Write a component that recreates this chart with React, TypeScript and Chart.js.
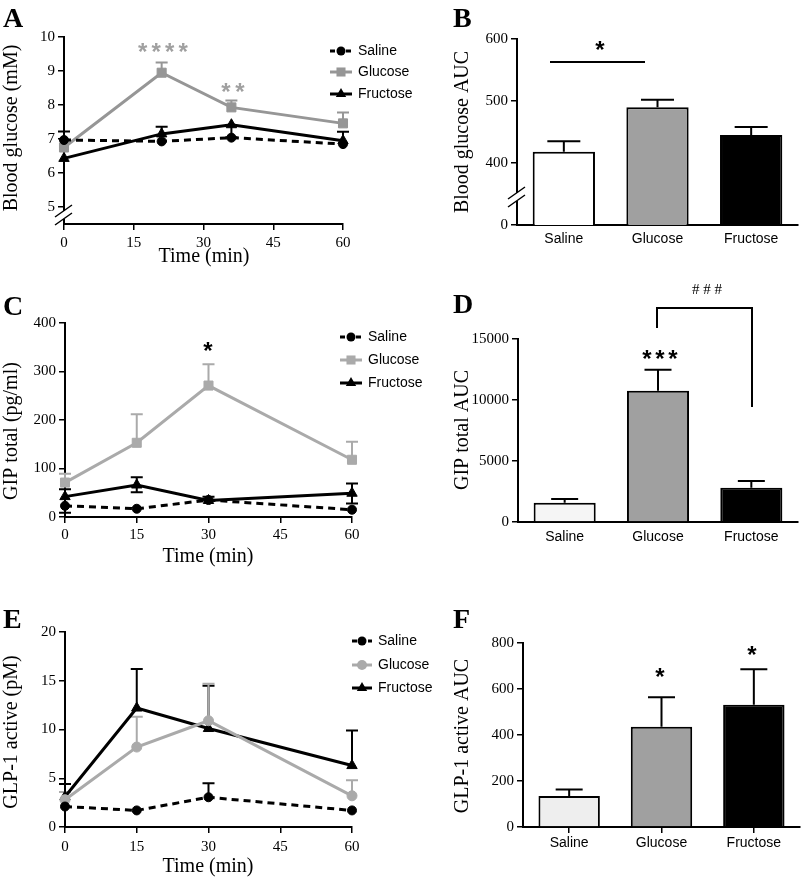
import React, { useEffect, useRef } from 'react';
import { Chart, registerables } from 'chart.js';
Chart.register(...registerables);

const SERIF = "'Liberation Serif', 'Times New Roman', Times, serif";
const SANS = "'Liberation Sans', Arial, Helvetica, sans-serif";

// ---------------- data ----------------
const groups = ['Saline', 'Glucose', 'Fructose'];
const timeTicks = [0, 15, 30, 45, 60];

// Panel A: blood glucose (mM)
const timeA = [0, 21, 36, 60];
const salineA = [6.97, 6.93, 7.04, 6.85];
const salineAUp = [0.25, 0, 0, 0];
const salineADown = [0, 0, 0, 0];
const glucoseA = [6.75, 8.95, 7.93, 7.46];
const glucoseAUp = [0, 0.3, 0.2, 0.32];
const glucoseADown = [0, 0, 0, 0];
const fructoseA = [6.43, 7.15, 7.42, 6.95];
const fructoseAUp = [0, 0.21, 0, 0.26];
const fructoseADown = [0, 0, 0.37, 0];
const yTicksA = [5, 6, 7, 8, 9, 10];

// Panel B: blood glucose AUC
const aucGlucose = [418, 490, 445];
const aucGlucoseErr = [17, 12, 13];
const yTicksB = [300, 400, 500, 600];
const yLabelsB = ['0', '400', '500', '600'];

// Panel C: GIP total (pg/ml)
const timeC = [0, 15, 30, 60];
const salineC = [23, 17, 35, 15];
const salineCUp = [0, 0, 0, 0];
const salineCDown = [14, 0, 0, 0];
const glucoseC = [71, 153, 271, 118];
const glucoseCUp = [18, 59, 44, 37];
const glucoseCDown = [0, 0, 0, 0];
const fructoseC = [42, 66, 34, 49];
const fructoseCUp = [15, 16, 8, 20];
const fructoseCDown = [0, 15, 0, 21];
const yTicksC = [0, 100, 200, 300, 400];

// Panel D: GIP total AUC
const aucGip = [1580, 10750, 2800];
const aucGipErr = [300, 1720, 570];
const yTicksD = [0, 5000, 10000, 15000];

// Panel E: GLP-1 active (pM)
const timeE = [0, 15, 30, 60];
const salineE = [2.1, 1.7, 3.05, 1.7];
const salineEUp = [0, 0, 1.45, 0];
const glucoseE = [2.8, 8.2, 10.9, 3.2];
const glucoseEUp = [0.8, 3.1, 3.8, 1.6];
const fructoseE = [3.1, 12.2, 10.1, 6.3];
const fructoseEUp = [1.3, 4.0, 4.4, 3.6];
const noErr = [0, 0, 0, 0];
const yTicksE = [0, 5, 10, 15, 20];

// Panel F: GLP-1 active AUC
const aucGlp = [135, 436, 532];
const aucGlpErr = [28, 128, 154];
const yTicksF = [0, 200, 400, 600, 800];

// ---------------- helpers ----------------
type Ctx = CanvasRenderingContext2D;

function txt(ctx: Ctx, s: string, x: number, y: number, font: string, color = '#000', align: CanvasTextAlign = 'center', rot = 0) {
  ctx.save();
  ctx.font = font;
  ctx.fillStyle = color;
  ctx.textAlign = align;
  ctx.textBaseline = 'middle';
  ctx.translate(x, y);
  if (rot) ctx.rotate(rot);
  ctx.fillText(s, 0, 0);
  ctx.restore();
}

function glyph(ctx: Ctx, s: string, cx: number, cy: number, font: string, color = '#000') {
  ctx.save();
  ctx.font = font;
  ctx.fillStyle = color;
  ctx.textAlign = 'center';
  ctx.textBaseline = 'alphabetic';
  const m = ctx.measureText(s);
  const asc = m.actualBoundingBoxAscent || 0;
  const desc = m.actualBoundingBoxDescent || 0;
  ctx.fillText(s, cx, cy + (asc - desc) / 2);
  ctx.restore();
}

const STAR = `bold 24px ${SANS}`;
function stars(ctx: Ctx, n: number, cx: number, cy: number, color = '#000', gap = 13.5) {
  for (let i = 0; i < n; i++) {
    glyph(ctx, '*', cx + (i - (n - 1) / 2) * gap, cy, STAR, color);
  }
}

function letter(ctx: Ctx, s: string, x: number, y: number) {
  ctx.save();
  ctx.font = `bold 28px ${SERIF}`;
  ctx.fillStyle = '#000';
  ctx.textAlign = 'left';
  ctx.textBaseline = 'alphabetic';
  ctx.fillText(s, x, y);
  ctx.restore();
}

function marker(ctx: Ctx, shape: string, x: number, y: number, r: number, color: string) {
  ctx.save();
  ctx.fillStyle = color;
  ctx.beginPath();
  if (shape === 'circle') {
    ctx.arc(x, y, r, 0, Math.PI * 2);
  } else if (shape === 'rect') {
    const s = r * Math.SQRT1_2;
    ctx.rect(x - s, y - s, 2 * s, 2 * s);
  } else {
    ctx.moveTo(x, y - r);
    ctx.lineTo(x + r * Math.sin((2 * Math.PI) / 3), y - r * Math.cos((2 * Math.PI) / 3));
    ctx.lineTo(x + r * Math.sin((4 * Math.PI) / 3), y - r * Math.cos((4 * Math.PI) / 3));
    ctx.closePath();
  }
  ctx.fill();
  ctx.restore();
}

function breakMarks(ctx: Ctx, x: number, yc: number) {
  ctx.save();
  ctx.fillStyle = '#fff';
  ctx.fillRect(x - 3, yc - 4, 6, 8);
  ctx.strokeStyle = '#000';
  ctx.lineWidth = 1.5;
  ctx.beginPath();
  ctx.moveTo(x - 9, yc + 2);
  ctx.lineTo(x + 8, yc - 10);
  ctx.moveTo(x - 9, yc + 10);
  ctx.lineTo(x + 8, yc - 2);
  ctx.stroke();
  ctx.restore();
}

interface Series {
  label: string;
  data: number[];
  up: number[];
  down: number[];
  color: string;
  dash: boolean;
  point: string;
  radius: number;
}

function legend(ctx: Ctx, series: Series[], x1: number, x2: number, ys: number[]) {
  series.forEach((s, i) => {
    const y = ys[i];
    ctx.save();
    ctx.strokeStyle = s.color;
    ctx.lineWidth = 3;
    ctx.setLineDash(s.dash ? [5, 3] : []);
    ctx.beginPath();
    ctx.moveTo(x1, y);
    ctx.lineTo(x2, y);
    ctx.stroke();
    ctx.restore();
    marker(ctx, s.point, (x1 + x2) / 2, y, s.radius, s.color);
    txt(ctx, s.label, x2 + 6, y, `14px ${SANS}`, '#000', 'left');
  });
}

function drawErr(chart: any, xs: number[], ys: number[], up: number[], down: number[], color: string, capW: number) {
  const ctx: Ctx = chart.ctx;
  const xS = chart.scales.x;
  const yS = chart.scales.y;
  ctx.save();
  ctx.strokeStyle = color;
  ctx.lineWidth = 2;
  for (let i = 0; i < ys.length; i++) {
    const px = xS.getPixelForValue(xs[i]);
    const py = yS.getPixelForValue(ys[i]);
    const ends: number[] = [];
    if (up[i] > 0) ends.push(yS.getPixelForValue(ys[i] + up[i]));
    if (down[i] > 0) ends.push(yS.getPixelForValue(ys[i] - down[i]));
    ends.forEach((pe) => {
      ctx.beginPath();
      ctx.moveTo(px, py);
      ctx.lineTo(px, pe);
      ctx.moveTo(px - capW / 2, pe);
      ctx.lineTo(px + capW / 2, pe);
      ctx.stroke();
    });
  }
  ctx.restore();
}

const gridStyle = (ticks = true) => ({
  drawOnChartArea: false,
  drawTicks: ticks,
  tickLength: 6,
  color: '#000',
  lineWidth: 1.5,
});
const borderStyle = { display: true, color: '#000', width: 2 };

interface Box { ox: number; oy: number; w: number; h: number; l: number; t: number; r: number; b: number; }

function overlayPlugin(box: Box, draw: (ctx: Ctx) => void) {
  return {
    id: 'overlay',
    afterDraw(chart: any) {
      const ctx: Ctx = chart.ctx;
      ctx.save();
      ctx.translate(-box.ox, -box.oy);
      draw(ctx);
      ctx.restore();
    },
  };
}

function lineConfig(box: Box, times: number[], series: Series[], yMin: number, yMax: number, yTicks: number[], xPad: number, draw: (ctx: Ctx) => void) {
  return {
    type: 'line',
    data: {
      datasets: series.map((s) => ({
        label: s.label,
        data: times.map((t, i) => ({ x: t, y: s.data[i] })),
        borderColor: s.color,
        backgroundColor: s.color,
        borderWidth: 3,
        borderDash: s.dash ? [7, 5] : [],
        pointStyle: s.point,
        pointRadius: s.radius,
        pointBackgroundColor: s.color,
        pointBorderColor: s.color,
        pointBorderWidth: 1,
        tension: 0,
        clip: false,
      })),
    },
    options: {
      responsive: false,
      animation: false,
      events: [],
      layout: { padding: { left: 0, top: box.t - box.oy, right: box.ox + box.w - box.r, bottom: 0 } },
      plugins: { legend: { display: false }, tooltip: { enabled: false } },
      scales: {
        x: {
          type: 'linear',
          min: 0,
          max: 60,
          afterBuildTicks: (s: any) => { s.ticks = timeTicks.map((v) => ({ value: v })); },
          ticks: { color: '#000', font: { family: SERIF, size: 15 }, padding: xPad, maxRotation: 0, autoSkip: false },
          grid: gridStyle(true),
          border: borderStyle,
          afterFit: (s: any) => { s.height = box.oy + box.h - box.b; },
        },
        y: {
          type: 'linear',
          min: yMin,
          max: yMax,
          afterBuildTicks: (s: any) => { s.ticks = yTicks.map((v) => ({ value: v })); },
          ticks: { color: '#000', font: { family: SERIF, size: 15 }, padding: 3, autoSkip: false },
          grid: gridStyle(true),
          border: borderStyle,
          afterFit: (s: any) => { s.width = box.l - box.ox; },
        },
      },
    },
    plugins: [
      {
        id: 'errbars',
        beforeDatasetsDraw(chart: any) {
          series.slice().reverse().forEach((s) => drawErr(chart, times, s.data, s.up, s.down, s.color, 12));
        },
      },
      overlayPlugin(box, draw),
    ],
  };
}

function barConfig(box: Box, values: number[], errs: number[], colors: string[], yMin: number, yMax: number, yTicks: number[], yLabels: string[] | null, capW: number, xTickMarks: boolean, xPad: number, draw: (ctx: Ctx) => void) {
  return {
    type: 'bar',
    data: {
      labels: groups,
      datasets: [
        {
          data: values,
          backgroundColor: colors,
          borderColor: '#000',
          borderWidth: 2,
          barPercentage: 0.665,
          categoryPercentage: 1,
          clip: 0,
        },
      ],
    },
    options: {
      responsive: false,
      animation: false,
      events: [],
      layout: { padding: { left: 0, top: box.t - box.oy, right: box.ox + box.w - box.r, bottom: 0 } },
      plugins: { legend: { display: false }, tooltip: { enabled: false } },
      scales: {
        x: {
          type: 'category',
          offset: true,
          ticks: { color: '#000', font: { family: SANS, size: 14 }, padding: xPad, maxRotation: 0, autoSkip: false },
          grid: { ...gridStyle(xTickMarks), offset: false },
          border: borderStyle,
          afterFit: (s: any) => { s.height = box.oy + box.h - box.b; },
        },
        y: {
          type: 'linear',
          min: yMin,
          max: yMax,
          afterBuildTicks: (s: any) => { s.ticks = yTicks.map((v) => ({ value: v })); },
          ticks: {
            color: '#000',
            font: { family: SERIF, size: 15 },
            padding: 3,
            autoSkip: false,
            callback: (v: number) => (yLabels ? yLabels[yTicks.indexOf(v)] : String(v)),
          },
          grid: gridStyle(true),
          border: borderStyle,
          afterFit: (s: any) => { s.width = box.l - box.ox; },
        },
      },
    },
    plugins: [
      {
        id: 'errbars',
        afterDatasetsDraw(chart: any) {
          drawErr(chart, [0, 1, 2], values, errs, [0, 0, 0], '#000', capW);
        },
      },
      overlayPlugin(box, draw),
    ],
  };
}

// ---------------- panels ----------------
const GREY_A = '#969696';
const GREY = '#aaaaaa';

const seriesA: Series[] = [
  { label: 'Saline', data: salineA, up: salineAUp, down: salineADown, color: '#000', dash: true, point: 'circle', radius: 4.5 },
  { label: 'Glucose', data: glucoseA, up: glucoseAUp, down: glucoseADown, color: GREY_A, dash: false, point: 'rect', radius: 6.4 },
  { label: 'Fructose', data: fructoseA, up: fructoseAUp, down: fructoseADown, color: '#000', dash: false, point: 'triangle', radius: 6 },
];
const seriesC: Series[] = [
  { label: 'Saline', data: salineC, up: salineCUp, down: salineCDown, color: '#000', dash: true, point: 'circle', radius: 4.5 },
  { label: 'Glucose', data: glucoseC, up: glucoseCUp, down: glucoseCDown, color: GREY, dash: false, point: 'rect', radius: 6.4 },
  { label: 'Fructose', data: fructoseC, up: fructoseCUp, down: fructoseCDown, color: '#000', dash: false, point: 'triangle', radius: 6 },
];
const seriesE: Series[] = [
  { label: 'Saline', data: salineE, up: salineEUp, down: noErr, color: '#000', dash: true, point: 'circle', radius: 4.5 },
  { label: 'Glucose', data: glucoseE, up: glucoseEUp, down: noErr, color: GREY, dash: false, point: 'circle', radius: 5 },
  { label: 'Fructose', data: fructoseE, up: fructoseEUp, down: noErr, color: '#000', dash: false, point: 'triangle', radius: 6 },
];

const boxA: Box = { ox: 0, oy: 0, w: 445, h: 275, l: 64, t: 37, r: 343, b: 224 };
const boxB: Box = { ox: 425, oy: 0, w: 376, h: 275, l: 517, t: 39, r: 798, b: 225 };
const boxC: Box = { ox: 0, oy: 275, w: 445, h: 300, l: 65, t: 323, r: 352, b: 517 };
const boxD: Box = { ox: 425, oy: 275, w: 376, h: 300, l: 518, t: 339, r: 798, b: 522 };
const boxE: Box = { ox: 0, oy: 575, w: 445, h: 305, l: 65, t: 632, r: 352, b: 827 };
const boxF: Box = { ox: 425, oy: 575, w: 376, h: 305, l: 523, t: 643, r: 800, b: 827 };

const TITLE = `20px ${SERIF}`;
const UP = -Math.PI / 2;

const panels: { box: Box; make: () => any }[] = [
  {
    box: boxA,
    make: () =>
      lineConfig(boxA, timeA, seriesA, 4.5, 10, yTicksA, 4, (ctx) => {
        letter(ctx, 'A', 3, 27);
        txt(ctx, 'Blood glucose (mM)', 12, 128, TITLE, '#000', 'center', UP);
        txt(ctx, 'Time (min)', 204, 257, TITLE);
        legend(ctx, seriesA, 330, 352, [51, 72, 94]);
        stars(ctx, 4, 163, 47, '#a0a0a0');
        stars(ctx, 2, 233, 87, '#a0a0a0', 14);
        breakMarks(ctx, 64, 215);
      }),
  },
  {
    box: boxB,
    make: () =>
      barConfig(boxB, aucGlucose, aucGlucoseErr, ['#ffffff', '#a0a0a0', '#000000'], 300, 600, yTicksB, yLabelsB, 33, false, 6, (ctx) => {
        letter(ctx, 'B', 453, 27);
        txt(ctx, 'Blood glucose AUC', 463, 132, TITLE, '#000', 'center', UP);
        ctx.save();
        ctx.strokeStyle = '#000';
        ctx.lineWidth = 2;
        ctx.beginPath();
        ctx.moveTo(550, 62);
        ctx.lineTo(645, 62);
        ctx.stroke();
        ctx.restore();
        stars(ctx, 1, 600, 45);
        breakMarks(ctx, 517, 197);
      }),
  },
  {
    box: boxC,
    make: () =>
      lineConfig(boxC, timeC, seriesC, 0, 400, yTicksC, 3, (ctx) => {
        letter(ctx, 'C', 3, 315);
        txt(ctx, 'GIP total (pg/ml)', 12, 431, TITLE, '#000', 'center', UP);
        txt(ctx, 'Time (min)', 208, 557, TITLE);
        legend(ctx, seriesC, 340, 362, [337, 360, 383]);
        stars(ctx, 1, 208, 346);
      }),
  },
  {
    box: boxD,
    make: () =>
      barConfig(boxD, aucGip, aucGipErr, ['#f5f5f5', '#a0a0a0', '#000000'], 0, 15000, yTicksD, null, 27, false, 7, (ctx) => {
        letter(ctx, 'D', 453, 313);
        txt(ctx, 'GIP total AUC', 463, 430, TITLE, '#000', 'center', UP);
        stars(ctx, 3, 660, 354, '#000', 13);
        ctx.save();
        ctx.strokeStyle = '#000';
        ctx.lineWidth = 2;
        ctx.beginPath();
        ctx.moveTo(657, 328);
        ctx.lineTo(657, 308);
        ctx.lineTo(752, 308);
        ctx.lineTo(752, 407);
        ctx.stroke();
        ctx.restore();
        txt(ctx, '# # #', 707, 290, `15px ${SERIF}`);
      }),
  },
  {
    box: boxE,
    make: () =>
      lineConfig(boxE, timeE, seriesE, 0, 20, yTicksE, 5, (ctx) => {
        letter(ctx, 'E', 3, 628);
        txt(ctx, 'GLP-1 active (pM)', 12, 732, TITLE, '#000', 'center', UP);
        txt(ctx, 'Time (min)', 208, 867, TITLE);
        legend(ctx, seriesE, 352, 372, [641, 665, 688]);
      }),
  },
  {
    box: boxF,
    make: () =>
      barConfig(boxF, aucGlp, aucGlpErr, ['#eeeeee', '#a0a0a0', '#000000'], 0, 800, yTicksF, null, 27, true, 2, (ctx) => {
        letter(ctx, 'F', 453, 628);
        txt(ctx, 'GLP-1 active AUC', 463, 736, TITLE, '#000', 'center', UP);
        stars(ctx, 1, 660, 672);
        stars(ctx, 1, 752, 650);
      }),
  },
];

function Panel({ box, make }: { box: Box; make: () => any }) {
  const ref = useRef<HTMLCanvasElement>(null);
  useEffect(() => {
    const chart = new Chart(ref.current as HTMLCanvasElement, make());
    return () => chart.destroy();
  }, []);
  return (
    <canvas
      ref={ref}
      width={box.w}
      height={box.h}
      style={{ position: 'absolute', left: box.ox, top: box.oy, width: box.w, height: box.h }}
    />
  );
}

export default function App() {
  return (
    <div style={{ position: 'absolute', left: 0, top: 0, width: 801, height: 880, background: '#fff' }}>
      {panels.map((p, i) => (
        <Panel key={i} box={p.box} make={p.make} />
      ))}
    </div>
  );
}
